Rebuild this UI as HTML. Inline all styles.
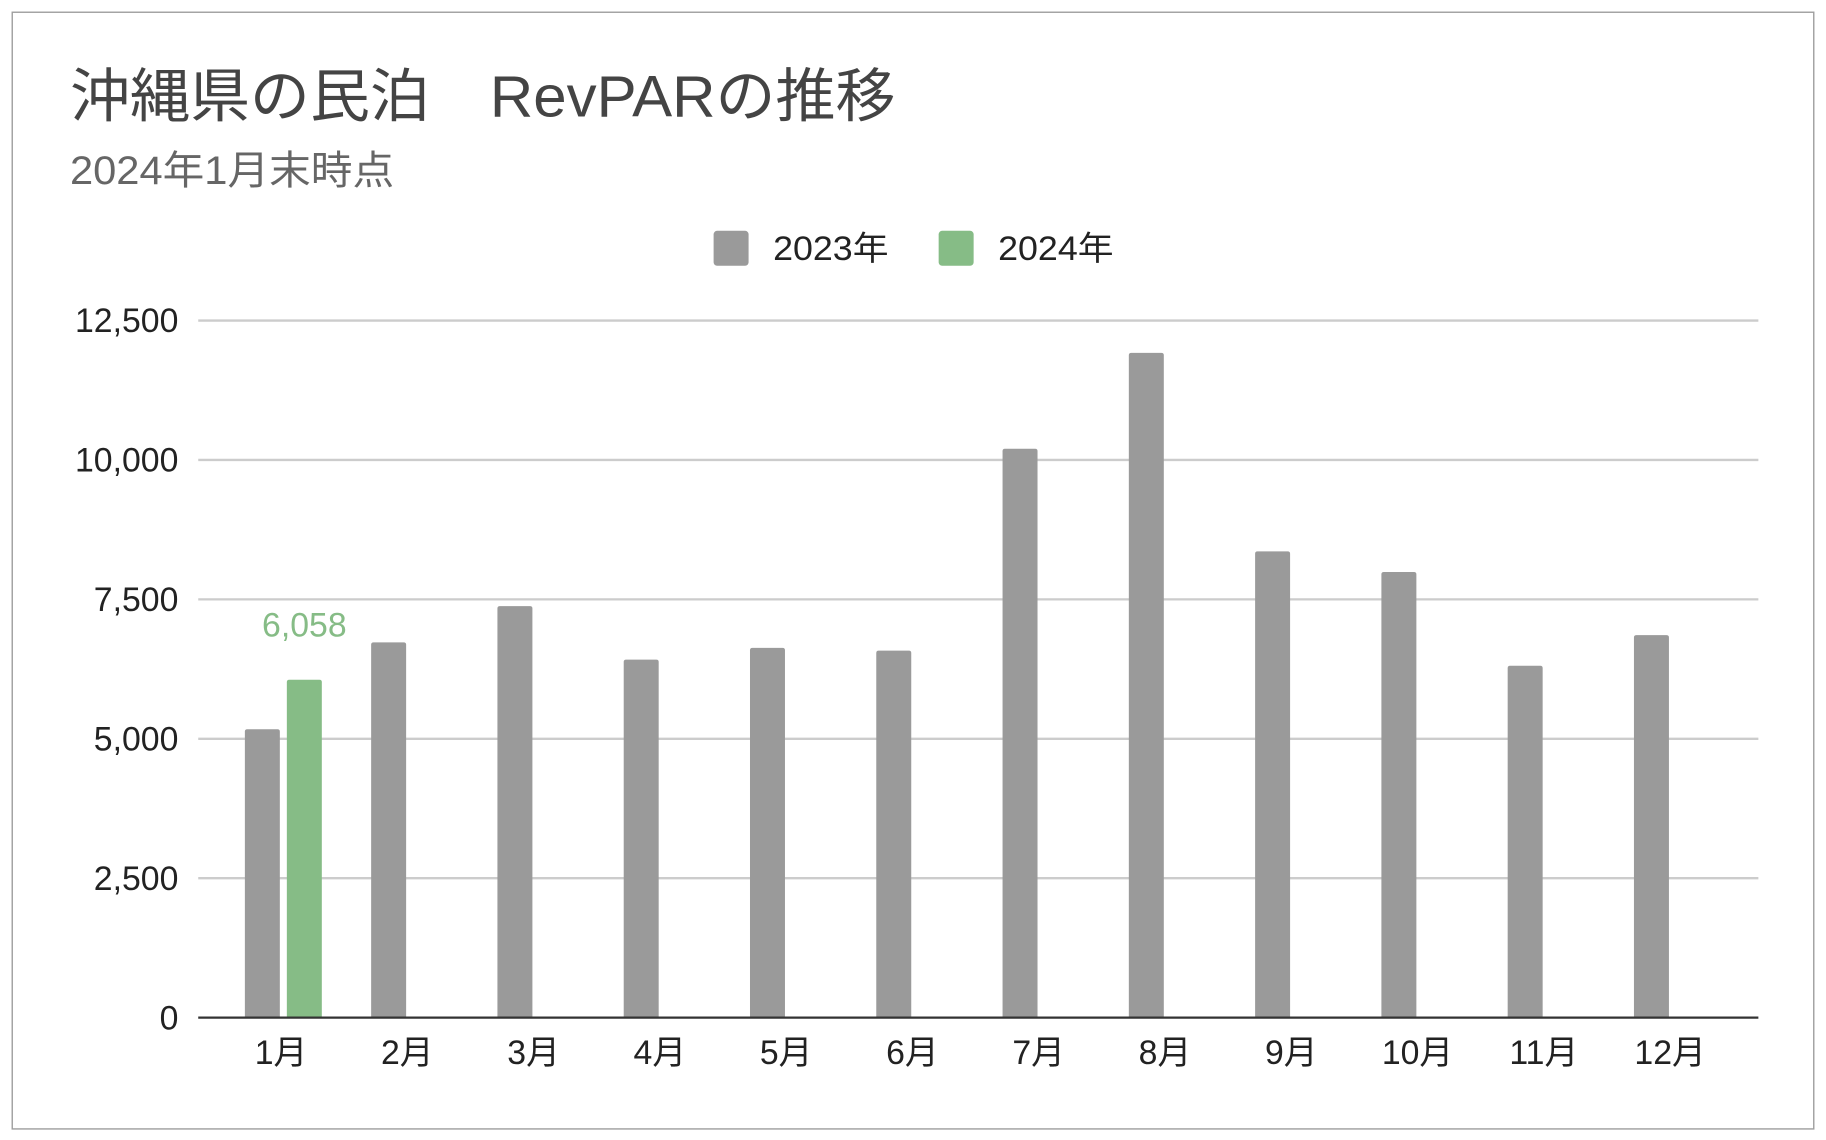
<!DOCTYPE html>
<html><head><meta charset="utf-8"><style>
html,body{margin:0;padding:0;background:#fff;}
svg{display:block;font-family:"Liberation Sans","Noto Sans CJK JP",sans-serif;}
</style></head><body>
<svg id="chart" width="1826" height="1140" viewBox="0 0 1566 978" preserveAspectRatio="none" xmlns="http://www.w3.org/2000/svg">
<rect x="10.5" y="10.5" width="1545" height="958" fill="#fff" stroke="#9e9e9e" stroke-width="1.2"/>
<text x="60" y="100" font-size="50" fill="#444" textLength="708" lengthAdjust="spacingAndGlyphs">沖縄県の民泊　RevPARの推移</text>
<text x="60" y="158" font-size="34" fill="#666" textLength="278" lengthAdjust="spacingAndGlyphs">2024年1月末時点</text>
<g>
<rect x="612" y="198" width="30" height="30" rx="3" fill="#9a9a9a"/>
<text x="663" y="223" font-size="29" fill="#222" textLength="99" lengthAdjust="spacingAndGlyphs">2023年</text>
<rect x="805" y="198" width="30" height="30" rx="3" fill="#86bc86"/>
<text x="856" y="223" font-size="29" fill="#222" textLength="99" lengthAdjust="spacingAndGlyphs">2024年</text>
</g>
<g id="grid"></g><g id="bars"></g><g id="xlabels"></g>
</svg>
<script>
const categories=["1月","2月","3月","4月","5月","6月","7月","8月","9月","10月","11月","12月"];
const values2023=[5170,6730,7380,6420,6630,6580,10200,11920,8360,7990,6310,6860];
const values2024=[6058];
const labels2024=["6,058"];
const yTicks=[0,2500,5000,7500,10000,12500];
const yTickLabels=["0","2,500","5,000","7,500","10,000","12,500"];
const NS="http://www.w3.org/2000/svg";
const y0=873,yTop=275,yMax=12500,x0=170,x1=1508;
const yScale=v=>y0-v/yMax*(y0-yTop);
const xCenter=i=>241+108.3*i;
function mk(tag,attrs,parent,txt){const e=document.createElementNS(NS,tag);for(const k in attrs)e.setAttribute(k,attrs[k]);if(txt!==undefined)e.textContent=txt;parent.appendChild(e);return e;}
const grid=document.getElementById('grid');
yTicks.forEach((t,i)=>{
  const y=yScale(t);
  if(t!==0){const l=mk('line',{x1:x0,x2:x1,y1:y,y2:y,stroke:'#ccc','stroke-width':2},grid);
  
  }
  const tx=mk('text',{x:153,y:y+10,'font-size':29,fill:'#222','text-anchor':'end'},grid,yTickLabels[i]);
  
  
});
const bars=document.getElementById('bars');
values2023.forEach((v,i)=>{
  const c=xCenter(i),y=yScale(v);
  const r=mk('path',{d:`M${c-31},${y0} V${y+2} q0,-2 2,-2 h26 q2,0 2,2 V${y0} Z`,fill:'#9a9a9a'},bars);
  
  
});
values2024.forEach((v,i)=>{
  const c=xCenter(i),y=yScale(v);
  const r=mk('path',{d:`M${c+5},${y0} V${y+2} q0,-2 2,-2 h26 q2,0 2,2 V${y0} Z`,fill:'#86bc86'},bars);
  
  
  const t=mk('text',{x:c+20,y:y-37,'font-size':29,fill:'#86bc86','text-anchor':'middle'},bars,labels2024[i]);
  
  
});
const axis=mk('line',{x1:x0,x2:x1,y1:y0,y2:y0,stroke:'#333','stroke-width':2},bars);


const xl=document.getElementById('xlabels');
categories.forEach((c,i)=>{
  const t=mk('text',{x:xCenter(i),y:913,'font-size':29,fill:'#222','text-anchor':'middle'},xl,c);
  
  
});
</script>
</body></html>
